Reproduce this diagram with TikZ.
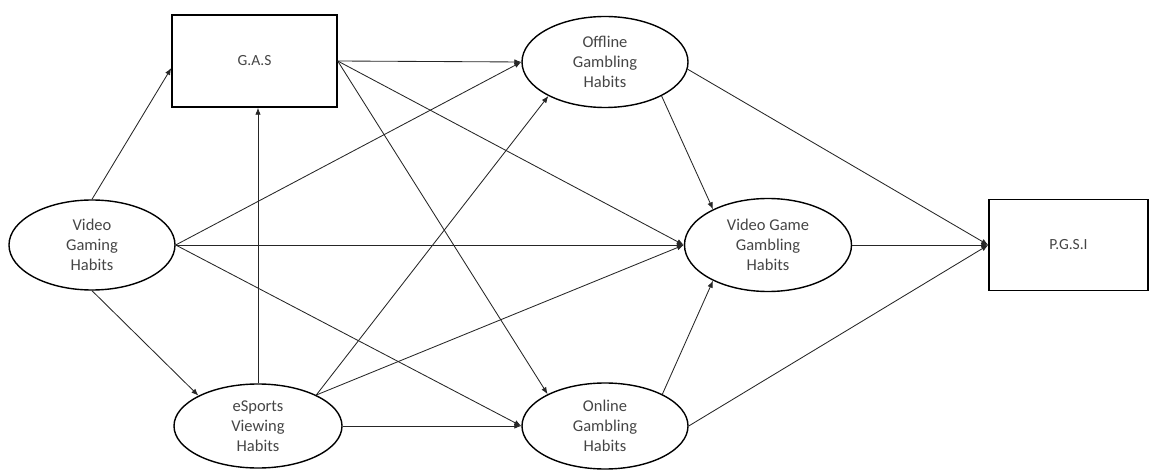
\documentclass[tikz,border=0pt]{standalone}
\usepackage{fontspec}
\setmainfont{Carlito}
\usetikzlibrary{arrows.meta,shapes.geometric,calc}
\definecolor{txt}{HTML}{454545}
\begin{document}
\begin{tikzpicture}[x=1pt,y=-1pt,
  lat/.style={ellipse,draw,line width=1.4pt,inner sep=0pt,align=center,
    font=\fontsize{16.5}{20}\selectfont,text=txt},
  obs/.style={rectangle,draw,line width=1.4pt,inner sep=0pt,align=center,
    font=\fontsize{15.5}{18}\selectfont,text=txt},
  conn/.style={line width=0.85pt,draw=black!85,-{Latex[length=7pt,width=5.5pt]}}]
\useasboundingbox (0,0) rectangle (1151,470);
\node[lat,minimum width=166pt,minimum height=90pt] (vgh) at (92,245) {Video\\Gaming\\Habits};
\node[obs,minimum width=165pt,minimum height=92pt] (gas) at (254.5,61) {G.A.S};
\node[lat,minimum width=168pt,minimum height=84pt] (esv) at (258,426) {eSports\\Viewing\\Habits};
\node[lat,minimum width=166pt,minimum height=91pt] (off) at (605,62) {Offline\\Gambling\\Habits};
\node[lat,minimum width=167pt,minimum height=93pt] (vggh) at (768,245) {Video Game\\Gambling\\Habits};
\node[lat,minimum width=166pt,minimum height=86pt] (onl) at (605,426) {Online\\Gambling\\Habits};
\node[obs,minimum width=159pt,minimum height=91pt] (pgsi) at (1068.5,245) {P.G.S.I};
% from Video Gaming Habits
\draw[conn] (vgh.north) -- ([yshift=-7pt]gas.west);
\draw[conn] (vgh.south) -- (esv.153);
\draw[conn] (vgh.east) -- (off.west);
\draw[conn] (vgh.east) -- (vggh.west);
\draw[conn] (vgh.east) -- (onl.west);
% from G.A.S
\draw[conn] (gas.east) -- (off.west);
\draw[conn] (gas.east) -- (vggh.west);
\draw[conn] (gas.east) -- (onl.151);
% from eSports
\draw[conn] (esv.north) -- (esv.north |- gas.south);
\draw[conn] (esv.28) -- (off.211);
\draw[conn] (esv.28) -- (vggh.west);
\draw[conn] (esv.east) -- (onl.west);
% to Video Game Gambling
\draw[conn] (off.329) -- (vggh.147);
\draw[conn] (onl.29) -- (vggh.213);
% to P.G.S.I
\draw[conn] (off.355) -- (pgsi.west);
\draw[conn] (vggh.east) -- (pgsi.west);
\draw[conn] (onl.east) -- (pgsi.west);
\end{tikzpicture}
\end{document}
